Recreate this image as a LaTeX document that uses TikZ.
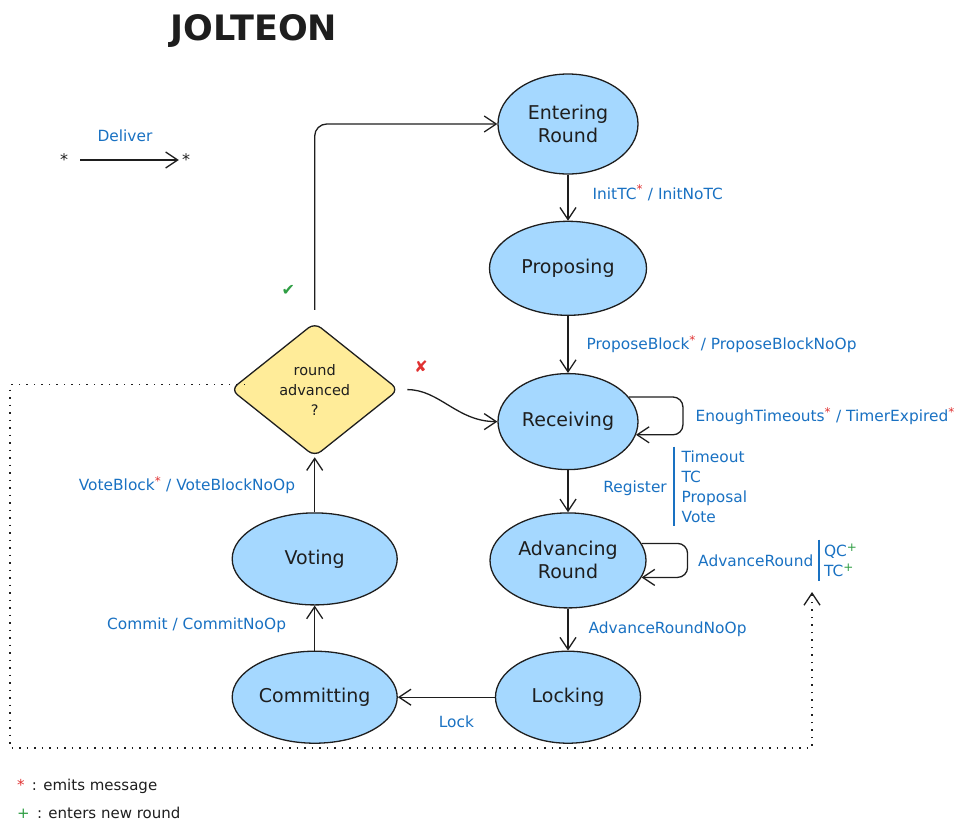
\documentclass[tikz,border=0pt]{standalone}
\usepackage{fontspec}
\setmainfont{DejaVu Sans}
\usetikzlibrary{positioning, arrows.meta, shapes.geometric, calc}
\definecolor{ink}{HTML}{1E1E1E}
\definecolor{stateblue}{HTML}{A5D8FF}
\definecolor{decide}{HTML}{FFEC99}
\definecolor{lblblue}{HTML}{1971C2}
\definecolor{emitred}{HTML}{E03131}
\definecolor{roundgreen}{HTML}{2F9E44}
\newcommand{\emits}{\textsuperscript{\textcolor{emitred}{\large*}}}
\newcommand{\newround}{\textsuperscript{\textcolor{roundgreen}{\large+}}}

\begin{document}
\begin{tikzpicture}[
    x=1pt, y=-1pt,
    every node/.style={inner sep=0pt, text=ink},
    state/.style={draw=ink, line width=1.3pt, ellipse, fill=stateblue, font=\fontsize{19}{23}\selectfont, align=center},
    decision/.style={draw=ink, line width=1.3pt, diamond, rounded corners=8pt, fill=decide, minimum width=168pt, minimum height=134pt, font=\fontsize{14.5}{20}\selectfont, align=center},
    lbl/.style={text=lblblue, font=\fontsize{15.4}{20}\selectfont},
    bar/.style={draw=lblblue, line width=1.3pt},
    arrow/.style={-{Straight Barb[length=12pt,width=16pt]}, line width=1.3pt, draw=ink},
    back/.style={arrow, dash pattern=on 1.5pt off 6pt}
]
\useasboundingbox (0,0) rectangle (965,833);

\node[font=\bfseries\fontsize{35}{40}\selectfont] (title) at (254,31) {JOLTEON};

\node[state, minimum width=140pt, minimum height=100pt] (enter) at (568,124) {Entering\\Round};
\node[state, minimum width=157pt, minimum height=94pt, below=46pt of enter] (propose) {Proposing};
\node[state, minimum width=140pt, minimum height=96pt, below=57pt of propose] (receive) {Receiving};
\node[state, minimum width=156pt, minimum height=95pt, below=42pt of receive] (advance) {Advancing\\Round};
\node[state, minimum width=145pt, minimum height=92pt, below=42pt of advance] (lock) {Locking};
\node[state, minimum width=165pt, minimum height=92pt, left=97pt of lock] (commit) {Committing};
\node[state, minimum width=165pt, minimum height=92pt, above=45pt of commit] (vote) {Voting};
\node[decision, above=55pt of vote] (check) {round\\advanced\\?};

\draw[arrow] (enter) -- node[lbl, right=24pt, yshift=5pt] {InitTC\emits{} / InitNoTC} (propose);
\draw[arrow] (propose) -- node[lbl, right=18pt] {ProposeBlock\emits{} / ProposeBlockNoOp} (receive);
\draw[arrow, rounded corners=10pt] (receive.22) -- ++(54,0) |- node[lbl, pos=0.25, right=12pt] {EnoughTimeouts\emits{} / TimerExpired\emits} (receive.-11);
\draw[arrow] (receive) -- node[lbl, align=left, right=113pt, yshift=5pt] (regs) {Timeout\\TC\\Proposal\\Vote} (advance);
\node[lbl, left=14pt of regs, yshift=-2pt] (register) {Register};
\draw[bar] ([xshift=-7pt, yshift=3pt]regs.north west) -- ([xshift=-7pt, yshift=-3pt]regs.south west);
\draw[arrow, rounded corners=10pt] (advance.13) -- ++(46,0) |- node[lbl, pos=0.25, right=10pt] (around) {AdvanceRound} (advance.-13);
\node[lbl, align=left, right=10pt of around] (trig) {QC\newround\\TC\newround};
\draw[bar] ([xshift=-5pt, yshift=4pt]trig.north west) -- ([xshift=-5pt, yshift=-4pt]trig.south west);
\draw[arrow] (advance) -- node[lbl, right=20pt] {AdvanceRoundNoOp} (lock);
\draw[arrow] (lock) -- node[lbl, below=18pt, xshift=10pt] {Lock} (commit);
\draw[arrow] (commit) -- node[lbl, left=28pt, yshift=3pt] {Commit / CommitNoOp} (vote);
\draw[arrow] (vote) -- node[lbl, left=19pt] {VoteBlock\emits{} / VoteBlockNoOp} (check);
\draw[arrow, rounded corners=12pt, shorten <=12pt] (check) |- node[pos=0.08, left=19pt, text=roundgreen, font=\fontsize{16}{18}\selectfont] {✔} (enter);
\draw[arrow, shorten <=8pt] (check.east) to[out=0, in=180] node[pos=0.2, above=20pt, text=emitred, font=\fontsize{16}{18}\selectfont] {✘} (receive.west);

\coordinate (reentry) at (812,592);
\draw[back] ([xshift=15pt, yshift=5pt]check.west) -| (10,748) -| (reentry);

\node[font=\fontsize{16}{18}\selectfont] (from) at (64,160) {*};
\node[font=\fontsize{16}{18}\selectfont] (to) at (186,160) {*};
\draw[arrow, shorten <=12pt, shorten >=3pt] (from) -- node[lbl, above=18pt] {Deliver} (to);

\node[anchor=west, font=\fontsize{15}{16}\selectfont] (emitkey) at (17,786) {\textcolor{emitred}{*}\, : emits message};
\node[anchor=west, font=\fontsize{15}{16}\selectfont] (roundkey) at (17,813) {\textcolor{roundgreen}{+}\, : enters new round};
\end{tikzpicture}
\end{document}
